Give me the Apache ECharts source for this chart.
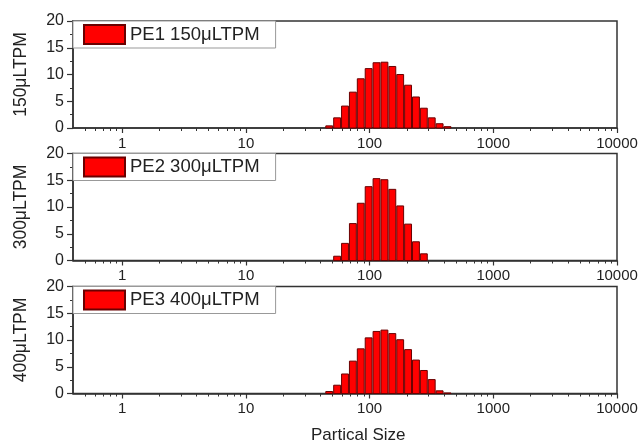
<!DOCTYPE html>
<html>
<head>
<meta charset="utf-8">
<script src="https://cdn.jsdelivr.net/npm/echarts@6/dist/echarts.min.js"></script>
<style>
html,body{margin:0;padding:0;background:#fff;}
#chart{width:642px;height:446px;}
</style>
</head>
<body>
<div id="chart"></div>
<script>
// Bin edges (nm), log-spaced size classes
var binEdges = [43.82, 50.75, 58.77, 68.06, 78.82, 91.28, 105.7, 122.4, 141.8, 164.2, 190.1, 220.2, 255, 295.3, 342, 396.1, 458.7];
// Series values (%) per bin
var pe1 = [0.4, 1.9, 4.1, 6.7, 9.2, 11.1, 12.2, 12.3, 11.5, 10.0, 8.0, 5.8, 3.7, 1.9, 0.8, 0.25];
var pe2 = [0, 0.8, 3.2, 6.9, 10.7, 13.8, 15.3, 15.1, 13.3, 10.2, 6.8, 3.5, 1.25, 0, 0, 0];
var pe3 = [0.37, 1.55, 3.65, 6.05, 8.35, 10.4, 11.6, 11.85, 11.2, 10.05, 8.2, 6.25, 4.3, 2.6, 0.5, 0.1];
var seriesNames = ['PE1 150μLTPM', 'PE2 300μLTPM', 'PE3 400μLTPM'];
var yNames = ['150μLTPM', '300μLTPM', '400μLTPM'];
var xMajorTicks = [1, 10, 100, 1000, 10000];
var xMinorTicks = [0.5, 0.6, 0.7, 0.8, 0.9,
  2, 3, 4, 5, 6, 7, 8, 9,
  20, 30, 40, 50, 60, 70, 80, 90,
  200, 300, 400, 500, 600, 700, 800, 900,
  2000, 3000, 4000, 5000, 6000, 7000, 8000, 9000];
var yTicks = [0, 5, 10, 15, 20];
var yMinorTicks = [2.5, 7.5, 12.5, 17.5];
var xTitle = 'Partical Size';

var allValues = [pe1, pe2, pe3];
var gridTops = [21, 153.5, 286.5];
var panelH = 107;
var font = "'Liberation Sans', Arial, sans-serif";

function makeData(vals) {
  var d = [];
  for (var i = 0; i < vals.length; i++) d.push([binEdges[i], binEdges[i + 1], vals[i]]);
  return d;
}
function plainLabel(v) { return String(Math.round(v * 1000) / 1000); }

var grids = [], xAxes = [], yAxes = [], series = [], legends = [];
for (var k = 0; k < 3; k++) {
  grids.push({left: 73, right: 25, top: gridTops[k], height: panelH, show: true,
    borderColor: '#333', borderWidth: 1.5, backgroundColor: 'transparent'});
  xAxes.push({type: 'log', logBase: 10, gridIndex: k, position: 'bottom', min: 0.4, max: 10000,
    axisLine: {show: true, lineStyle: {color: '#333', width: 1.5}},
    axisTick: {show: true, inside: false, length: 5, customValues: xMajorTicks, lineStyle: {color: '#333', width: 1.2}},
    axisLabel: {show: true, customValues: xMajorTicks, formatter: plainLabel, fontSize: 15, color: '#222', margin: 8, fontFamily: font},
    splitLine: {show: false}, minorTick: {show: false}});
  xAxes.push({type: 'log', logBase: 10, gridIndex: k, position: 'bottom', min: 0.4, max: 10000,
    axisLine: {show: false},
    axisTick: {show: true, inside: false, length: 3, customValues: xMinorTicks, lineStyle: {color: '#333', width: 1}},
    axisLabel: {show: false}, splitLine: {show: false}});
  yAxes.push({type: 'value', gridIndex: k, min: 0, max: 20, interval: 5,
    name: yNames[k], nameLocation: 'middle', nameGap: 43,
    nameTextStyle: {fontSize: 17.5, color: '#222', fontFamily: font},
    axisLine: {show: true, lineStyle: {color: '#333', width: 1.5}},
    axisTick: {show: true, inside: false, length: 6, customValues: yTicks, lineStyle: {color: '#333', width: 1.2}},
    axisLabel: {fontSize: 16, color: '#222', margin: 9, fontFamily: font, customValues: yTicks},
    splitLine: {show: false}});
  yAxes.push({type: 'value', gridIndex: k, position: 'left', min: 0, max: 20, interval: 5,
    axisLine: {show: false},
    axisTick: {show: true, inside: false, length: 3, customValues: yMinorTicks, lineStyle: {color: '#333', width: 1}},
    axisLabel: {show: false}, splitLine: {show: false}});
  series.push({type: 'custom', name: seriesNames[k], xAxisIndex: k * 2, yAxisIndex: k * 2,
    encode: {x: [0, 1], y: 2},
    itemStyle: {color: '#ff0000', borderColor: '#6a0000', borderWidth: 1},
    data: makeData(allValues[k]),
    renderItem: function (params, api) {
      var x0 = api.value(0), x1 = api.value(1), v = api.value(2);
      if (!v) return null;
      var p0 = api.coord([x0, v]);
      var p1 = api.coord([x1, 0]);
      return {type: 'rect',
        shape: {x: p0[0] + 0.5, y: p0[1], width: p1[0] - p0[0] - 1, height: p1[1] - p0[1]},
        style: {fill: '#ff0000', stroke: '#6a0000', lineWidth: 1}};
    }});
  legends.push({data: [seriesNames[k]], left: 73, top: gridTops[k], orient: 'horizontal',
    icon: 'rect', itemWidth: 41, itemHeight: 19, padding: [3, 16, 3, 10],
    borderColor: '#999', borderWidth: 1, backgroundColor: '#fff',
    textStyle: {fontSize: 18.5, color: '#222', fontFamily: font}});
}

var chart = echarts.init(document.getElementById('chart'), null, {renderer: 'canvas'});
chart.setOption({
  animation: false,
  backgroundColor: '#fff',
  textStyle: {fontFamily: font},
  grid: grids,
  xAxis: xAxes,
  yAxis: yAxes,
  legend: legends,
  series: series,
  graphic: [{type: 'text', left: 311, top: 427,
    style: {text: xTitle, fontSize: 17, fill: '#222', fontFamily: font}}]
});
</script>
</body>
</html>
